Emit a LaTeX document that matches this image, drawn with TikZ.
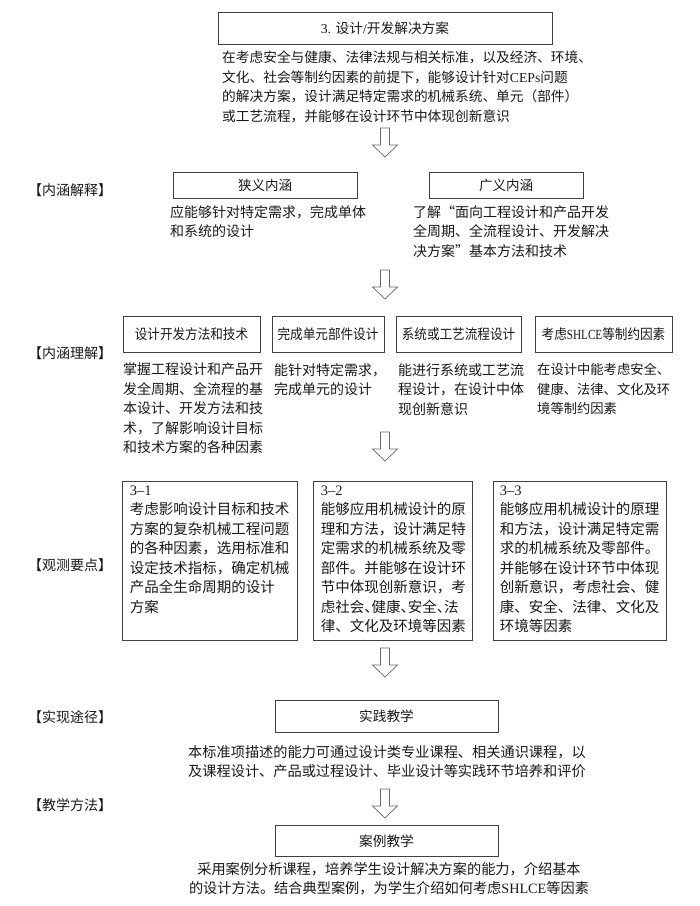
\documentclass[tikz,border=0pt]{standalone}
\usepackage{fontspec}
\setmainfont{Liberation Serif}
\newfontfamily\cjk{Noto Sans CJK SC}
\newfontfamily\cjkh[RawFeature=+halt]{Noto Sans CJK SC}
\newfontfamily\cjkc[FakeStretch=0.9]{Noto Sans CJK SC}
\newfontfamily\latc[FakeStretch=0.8]{Liberation Serif}
\newcommand\latn[1]{{\rmfamily #1}}
\newcommand\txtfont{\cjk\fontsize{14}{19.5}\selectfont}
\newcommand\parafont{\cjk\fontsize{13.7}{19.5}\selectfont}
\newcommand\obsfont{\cjk\fontsize{14.5}{19.5}\selectfont}
\newcommand\boxfont{\cjk\fontsize{13.5}{16}\selectfont}
\newcommand\condfont{\cjkc\fontsize{14}{16}\selectfont}
\newcommand\botfont{\cjk\fontsize{14.2}{19}\selectfont}
\begin{document}
\begin{tikzpicture}[x=1pt,y=-1pt,
  box/.style={draw=black!75, line width=0.8pt, inner sep=0pt, font=\boxfont, text=black!90},
  cbox/.style={box, font=\condfont},
  txt/.style={anchor=north west, inner sep=0pt, align=left, font=\txtfont, text=black!90},
  ctxt/.style={inner sep=0pt, align=center, font=\botfont, text=black!90},
  lbl/.style={anchor=west, inner sep=0pt, font=\txtfont, text=black!90},
  downarr/.pic={\draw[draw=black!60, fill=white, line width=0.7pt]
     (-4.5,0) -- (-4.5,17) -- (-12.5,17) -- (0,29) -- (12.5,17) -- (4.5,17) -- (4.5,0) -- cycle;}
]
\useasboundingbox[fill=white] (0,0) rectangle (700,906);

% ---- top
\node[box, minimum width=334pt, minimum height=32pt, font=\parafont] (top) at (385,28) {\latn{3. }设计\latn{/}开发解决方案};
\node[txt, font=\parafont] (para) at (222,51) {在考虑安全与健康、法律法规与相关标准，以及经济、环境、\\
文化、社会等制约因素的前提下，能够设计针对\latn{CEPs}问题\\
的解决方案，设计满足特定需求的机械系统、单元（部件）\\
或工艺流程，并能够在设计环节中体现创新意识};
\coordinate (a1) at (385,128);
\pic at (a1) {downarr};

% ---- row 2
\node[lbl] (l1) at (28,190) {【内涵解释】};
\node[box, minimum width=184pt, minimum height=26pt] (narrow) at (265,185) {狭义内涵};
\node[box, minimum width=154pt, minimum height=26pt] (broad) at (506,185) {广义内涵};
\node[txt] (narrowt) at (170,205) {应能够针对特定需求，完成单体\\和系统的设计};
\node[txt] (broadt) at (413,205) {了解“面向工程设计和产品开发\\全周期、全流程设计、开发解决\\决方案”基本方法和技术};
\coordinate (a2) at (385,270);
\pic at (a2) {downarr};

% ---- row 3
\node[lbl] (l2) at (28,353) {【内涵理解】};
\node[cbox, minimum width=137pt, minimum height=36pt] (u1) at (191.5,334) {设计开发方法和技术};
\node[cbox, minimum width=112pt, minimum height=36pt] (u2) at (328,334) {完成单元部件设计};
\node[cbox, minimum width=125pt, minimum height=36pt] (u3) at (458.5,334) {系统或工艺流程设计};
\node[cbox, minimum width=137pt, minimum height=36pt] (u4) at (603.5,334) {考虑{\latc SHLCE}等制约因素};
\node[txt] (u1t) at (123,363) {掌握工程设计和产品开\\发全周期、全流程的基\\本设计、开发方法和技\\术，了解影响设计目标\\和技术方案的各种因素};
\node[txt] (u2t) at (274,363) {能针对特定需求，\\完成单元的设计};
\node[txt] (u3t) at (398,363) {能进行系统或工艺流\\程设计，在设计中体\\现创新意识};
\node[txt, font=\cjk\fontsize{13.3}{19.5}\selectfont] (u4t) at (537,363) {在设计中能考虑安全、\\健康、法律、文化及环\\境等制约因素};
\coordinate (a3) at (385,432);
\pic at (a3) {downarr};

% ---- row 4
\node[lbl] (l3) at (28,565) {【观测要点】};
\node[box, minimum width=175pt, minimum height=159pt] (o1) at (209.5,560.5) {};
\node[box, minimum width=159pt, minimum height=159pt] (o2) at (392.5,560.5) {};
\node[box, minimum width=173pt, minimum height=159pt] (o3) at (579.5,560.5) {};
\node[txt, font=\obsfont] (o1t) at ([xshift=8pt,yshift=-5pt]o1.north west) {\latn{3–1}\\考虑影响设计目标和技术\\方案的复杂机械工程问题\\的各种因素，选用标准和\\设定技术指标，确定机械\\产品全生命周期的设计\\方案};
\node[txt, font=\obsfont] (o2t) at ([xshift=8pt,yshift=-5pt]o2.north west) {\latn{3–2}\\能够应用机械设计的原\\理和方法，设计满足特\\定需求的机械系统及零\\部件。并能够在设计环\\节中体现创新意识，考\\虑社会{\cjkh 、}健康{\cjkh 、}安全{\cjkh 、}法\\律、文化及环境等因素};
\node[txt, font=\obsfont] (o3t) at ([xshift=7pt,yshift=-5pt]o3.north west) {\latn{3–3}\\能够应用机械设计的原理\\和方法，设计满足特定需\\求的机械系统及零部件。\\并能够在设计环节中体现\\创新意识，考虑社会、健\\康、安全、法律、文化及\\环境等因素};
\coordinate (a4) at (385,648);
\pic at (a4) {downarr};

% ---- row 5
\node[lbl] (l4) at (28,717) {【实现途径】};
\node[box, minimum width=223pt, minimum height=32pt, font=\parafont] (prac) at (386.5,716) {实践教学};
\node[ctxt] (pract) at (387,762) {本标准项描述的能力可通过设计类专业课程、相关通识课程，以\\及课程设计、产品或过程设计、毕业设计等实践环节培养和评价};
\coordinate (a5) at (385,789);
\pic at (a5) {downarr};

% ---- row 6
\node[lbl] (l5) at (28,805) {【教学方法】};
\node[box, minimum width=223pt, minimum height=31pt, font=\parafont] (case) at (386.5,841) {案例教学};
\node[ctxt] (caset) at (389,879) {采用案例分析课程，培养学生设计解决方案的能力，介绍基本\\的设计方法。结合典型案例，为学生介绍如何考虑\latn{SHLCE}等因素};
\end{tikzpicture}
\end{document}
